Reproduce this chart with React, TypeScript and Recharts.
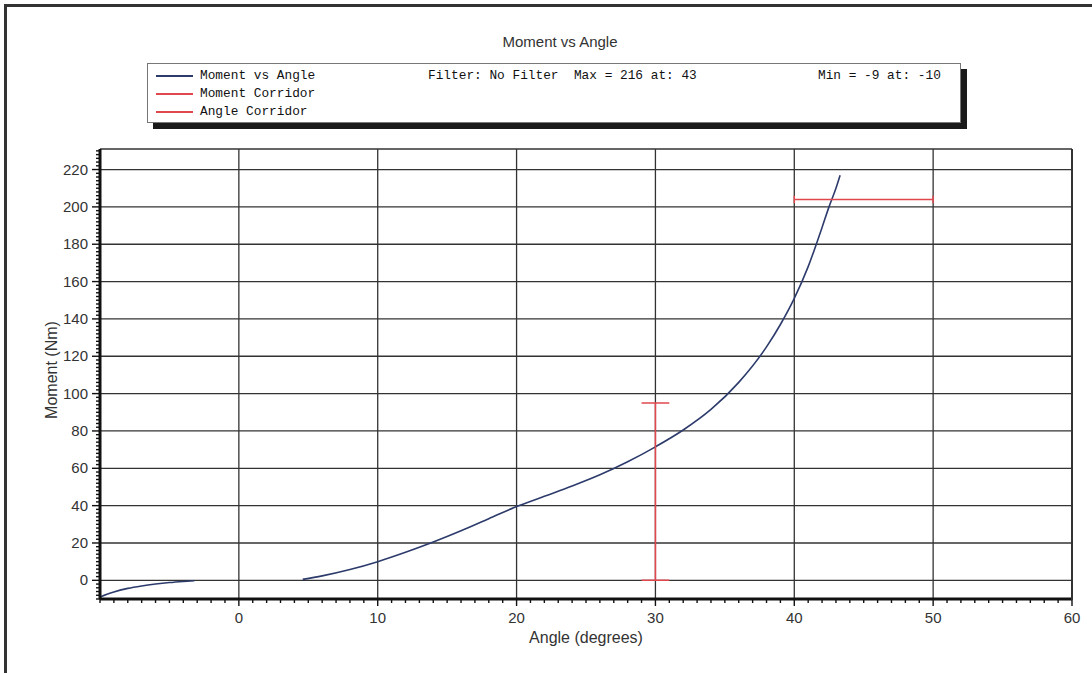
import React from 'react';
import { LineChart, Line, XAxis, YAxis, ReferenceLine } from 'recharts';

// Moment vs Angle curve
const angles = [-10, -9.5, -9, -8, -7, -6, -5, -4, -3.2, 0, 4.6, 6, 8, 10, 12, 14, 16, 18, 20, 22, 24, 26, 28, 30, 32, 34, 36, 38, 39, 40, 41, 42, 42.5, 43, 43.3];
const moments: (number | null)[] = [-9, -7.5, -6.2, -4.3, -3, -2, -1.2, -0.6, -0.2, null, 0.5, 2.4, 5.8, 10, 15, 20.5, 26.5, 33, 39.5, 45, 50.5, 56.5, 63.5, 71.5, 80.5, 91.5, 106, 125, 137, 151, 168, 189, 200, 210, 217];

// corridors (with small end caps)
const momentCorridorAngles = [29, 31, 30, 30, 29, 31];
const momentCorridorValues = [0, 0, 0, 95, 95, 95];
const angleCorridorAngles = [40, 40, 40, 50, 50, 50];
const angleCorridorValues = [202, 206, 204, 204, 202, 206];

const xLabels = [0, 10, 20, 30, 40, 50, 60];
const yLabels = [0, 20, 40, 60, 80, 100, 120, 140, 160, 180, 200, 220];
const seriesNames = ['Moment vs Angle', 'Moment Corridor', 'Angle Corridor'];
const statsText = ['Filter: No Filter  Max = 216 at: 43', 'Min = -9 at: -10'];

const BLUE = '#2c3b6b';
const RED = '#e0484e';
const GRID = '#333';
const FONT = '"Liberation Sans", Arial, sans-serif';

const curveData = angles.map((a, i) => ({ angle: a, moment: moments[i] }));
const momentCorridor = momentCorridorAngles.map((a, i) => ({ angle: a, moment: momentCorridorValues[i] }));
const angleCorridor = angleCorridorAngles.map((a, i) => ({ angle: a, moment: angleCorridorValues[i] }));

const xTicks: number[] = [];
for (let v = -10; v <= 60; v += 1) xTicks.push(v);
const yTicks: number[] = [];
for (let v = -10; v <= 230; v += 2) yTicks.push(v);

const XTick = (props: any) => {
  const { x, y, payload } = props;
  const major = xLabels.includes(payload.value);
  return (
    <g>
      <line x1={x} y1={y} x2={x} y2={y + (major ? 7 : 4)} stroke="#111" strokeWidth={1.4} />
      {major && (
        <text x={x} y={y + 24} textAnchor="middle" fontSize={15} fill="#333" fontFamily={FONT}>
          {payload.value}
        </text>
      )}
    </g>
  );
};

const YTick = (props: any) => {
  const { x, y, payload } = props;
  const major = yLabels.includes(payload.value);
  return (
    <g>
      <line x1={x} y1={y} x2={x - (major ? 8 : 4)} y2={y} stroke="#111" strokeWidth={1.4} />
      {major && (
        <text x={x - 12} y={y + 5} textAnchor="end" fontSize={15} fill="#333" fontFamily={FONT}>
          {payload.value}
        </text>
      )}
    </g>
  );
};

const legendColors = [BLUE, RED, RED];

export default function App() {
  return (
    <div style={{ position: 'absolute', left: 0, top: 0, width: 1092, height: 673, overflow: 'hidden', background: '#fff' }}>
      <div style={{ position: 'absolute', left: 4, top: 4, right: -10, bottom: -10, borderLeft: '3px solid #333', borderTop: '3px solid #333' }} />
      <div style={{ position: 'absolute', left: 0, width: 1120, top: 33, textAlign: 'center', fontFamily: FONT, fontSize: 15, color: '#333' }}>
        Moment vs Angle
      </div>

      <div
        style={{
          position: 'absolute', left: 147, top: 63, width: 812, height: 58,
          border: '1px solid #777', background: '#fff', boxShadow: '6px 6px 0 #1a1a1a',
          fontFamily: '"Liberation Mono", "Courier New", monospace', fontSize: 12.8, color: '#111',
        }}
      >
        {seriesNames.map((name, i) => (
          <div key={name} style={{ position: 'absolute', left: 0, top: 3 + i * 18, height: 18, width: '100%' }}>
            <div style={{ position: 'absolute', left: 8, top: 8, width: 37, height: 1.5, background: legendColors[i] }} />
            <div style={{ position: 'absolute', left: 52, top: 0, lineHeight: '18px', whiteSpace: 'pre' }}>{name}</div>
            {i === 0 && (
              <>
                <div style={{ position: 'absolute', left: 280, top: 0, lineHeight: '18px', whiteSpace: 'pre' }}>{statsText[0]}</div>
                <div style={{ position: 'absolute', left: 670, top: 0, lineHeight: '18px', whiteSpace: 'pre' }}>{statsText[1]}</div>
              </>
            )}
          </div>
        ))}
      </div>

      <div style={{ position: 'absolute', left: 0, top: 0 }}>
        <LineChart width={1092} height={673} margin={{ top: 149, right: 20, bottom: 24, left: 40 }}>
          <XAxis
            dataKey="angle"
            type="number"
            domain={[-10, 60]}
            ticks={xTicks}
            interval={0}
            tickSize={0}
            tickMargin={0}
            tick={<XTick />}
            tickLine={false}
            axisLine={{ stroke: '#111', strokeWidth: 3 }}
            height={50}
            allowDataOverflow
            label={{ value: 'Angle (degrees)', position: 'insideBottom', offset: 6, fontSize: 16, fill: '#333', fontFamily: FONT }}
          />
          <YAxis
            type="number"
            domain={[-10, 231]}
            ticks={yTicks}
            interval={0}
            tickSize={0}
            tickMargin={0}
            tick={<YTick />}
            tickLine={false}
            axisLine={{ stroke: '#111', strokeWidth: 3 }}
            width={60}
            allowDataOverflow
            label={{ value: 'Moment (Nm)', angle: -90, position: 'insideLeft', offset: 11, dy: -4, fontSize: 16, fill: '#333', fontFamily: FONT, style: { textAnchor: 'middle' } }}
          />
          {xLabels.map((v) => (
            <ReferenceLine key={'x' + v} x={v} stroke={GRID} strokeWidth={1.3} ifOverflow="visible" />
          ))}
          {yLabels.map((v) => (
            <ReferenceLine key={'y' + v} y={v} stroke={GRID} strokeWidth={1.3} ifOverflow="visible" />
          ))}
          <ReferenceLine y={231} stroke={GRID} strokeWidth={1.3} ifOverflow="visible" />
          <Line
            data={curveData}
            dataKey="moment"
            name={seriesNames[0]}
            type="monotone"
            stroke={BLUE}
            strokeWidth={1.6}
            dot={false}
            activeDot={false}
            isAnimationActive={false}
          />
          <Line
            data={momentCorridor}
            dataKey="moment"
            name={seriesNames[1]}
            type="linear"
            stroke={RED}
            strokeWidth={1.5}
            dot={false}
            activeDot={false}
            isAnimationActive={false}
          />
          <Line
            data={angleCorridor}
            dataKey="moment"
            name={seriesNames[2]}
            type="linear"
            stroke={RED}
            strokeWidth={1.5}
            dot={false}
            activeDot={false}
            isAnimationActive={false}
          />
        </LineChart>
      </div>
      {/* right edge of the plot frame */}
      <div style={{ position: 'absolute', left: 1071, top: 149, width: 2, height: 451, background: '#333' }} />
    </div>
  );
}
